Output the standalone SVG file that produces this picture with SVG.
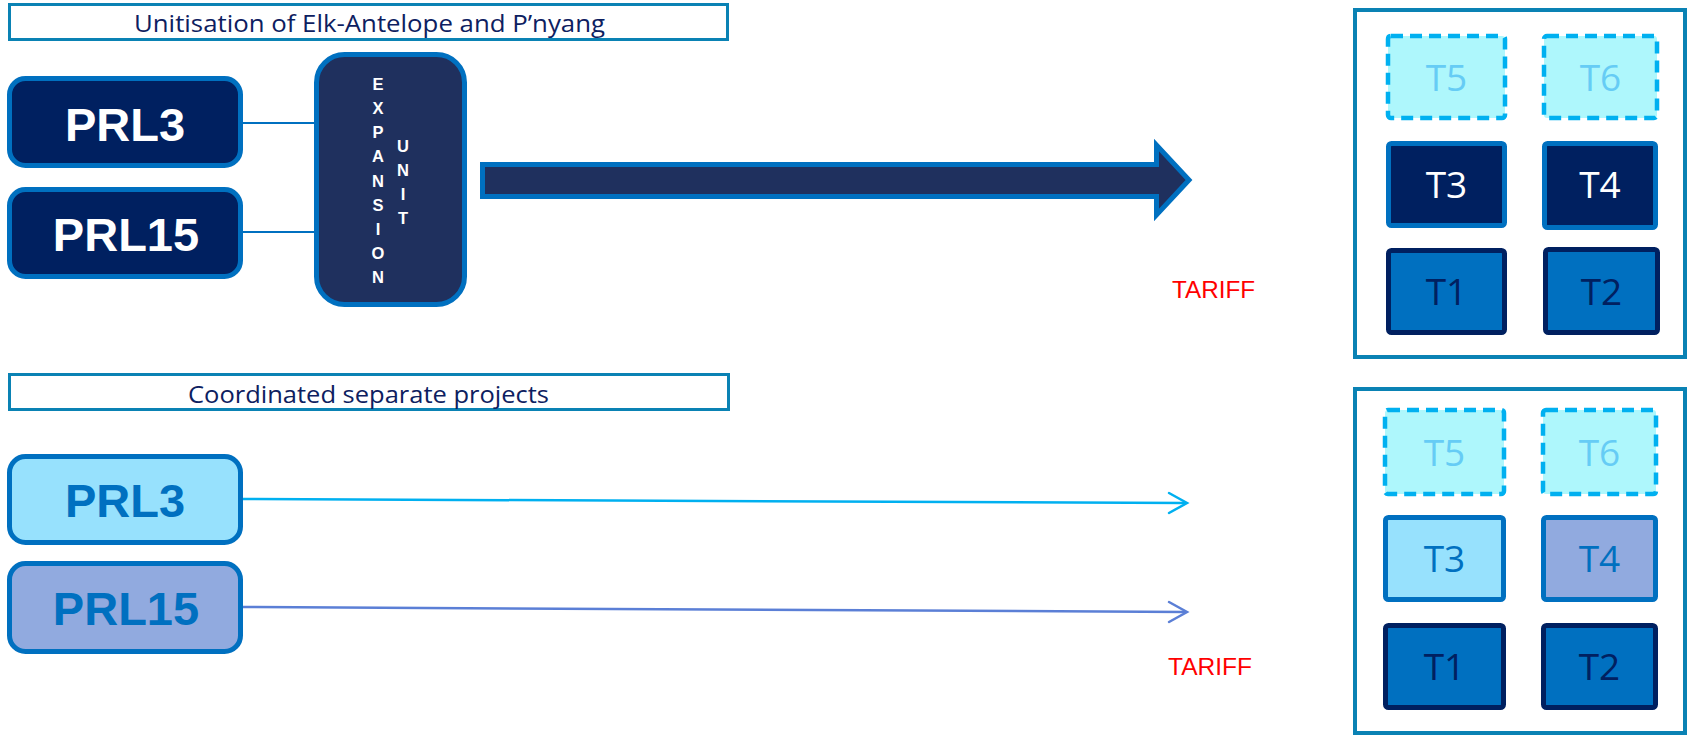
<svg xmlns="http://www.w3.org/2000/svg" width="1688" height="737" viewBox="0 0 1688 737">
<style>
.title{fill:#fff;stroke:#0a82b4;stroke-width:3}
.ttext{font-family:"Open Sans","Liberation Sans",sans-serif;font-size:24px;fill:#0d2060;text-anchor:middle}
.prl{stroke:#0070c0;stroke-width:5}
.prlt{font-family:"Liberation Sans",Arial,sans-serif;font-weight:bold;font-size:47px;text-anchor:middle}
.exp{font-family:"Liberation Sans",Arial,sans-serif;font-weight:bold;font-size:16.5px;fill:#fff;text-anchor:middle}
.panel{fill:#fff;stroke:#0a82b4;stroke-width:4}
.tb{stroke-width:5}
.tt{font-family:"Open Sans","Noto Sans",sans-serif;font-size:37px;text-anchor:middle}
.dash{fill:#aef7fc;stroke:#00b0f0;stroke-width:4.5;stroke-dasharray:12 7}
.tariff{font-family:"Liberation Sans",Arial,sans-serif;font-size:23px;fill:#ff0000}
</style>

<g id="title-top">
<rect class="title" x="9.5" y="4.5" width="718" height="35"/>
<text class="ttext" x="369.5" y="32" textLength="471" lengthAdjust="spacingAndGlyphs">Unitisation of Elk-Antelope and P’nyang</text>
</g>
<g id="title-bottom">
<rect class="title" x="9.5" y="374.5" width="719" height="35"/>
<text class="ttext" x="368.5" y="403" textLength="361" lengthAdjust="spacingAndGlyphs">Coordinated separate projects</text>
</g>

<g id="connectors">
<line x1="243" y1="123" x2="316" y2="123" stroke="#0070c0" stroke-width="2"/>
<line x1="243" y1="232" x2="316" y2="232" stroke="#0070c0" stroke-width="2"/>
<path d="M482.5,164.5 H1156.5 V145 L1189,180 L1156.5,215 V196.5 H482.5 Z" fill="#1f305e" stroke="#0070c0" stroke-width="5"/>
<line x1="243" y1="499" x2="1186" y2="503" stroke="#00b0f0" stroke-width="2.5"/>
<polyline points="1169,493 1187,503 1169,513" fill="none" stroke="#00b0f0" stroke-width="2.5" stroke-linecap="round"/>
<line x1="243" y1="607" x2="1186" y2="612" stroke="#5b7fd6" stroke-width="2.5"/>
<polyline points="1169,602 1187,612 1169,622" fill="none" stroke="#5b7fd6" stroke-width="2.5" stroke-linecap="round"/>
</g>

<g id="prl3-top">
<rect class="prl" x="9.5" y="78.5" width="231" height="87" rx="16" fill="#002060"/>
<text class="prlt" x="125" y="141" fill="#fff">PRL3</text>
</g>
<g id="prl15-top">
<rect class="prl" x="9.5" y="189.5" width="231" height="87" rx="16" fill="#002060"/>
<text class="prlt" x="126" y="251" fill="#fff">PRL15</text>
</g>

<g id="expansion-unit">
<rect x="316.5" y="54.5" width="148" height="250" rx="28" fill="#1f305e" stroke="#0070c0" stroke-width="5"/>
<text class="exp" x="378" y="90">E</text>
<text class="exp" x="378" y="114">X</text>
<text class="exp" x="378" y="138">P</text>
<text class="exp" x="378" y="162">A</text>
<text class="exp" x="378" y="187">N</text>
<text class="exp" x="378" y="211">S</text>
<text class="exp" x="378" y="235">I</text>
<text class="exp" x="378" y="259">O</text>
<text class="exp" x="378" y="283">N</text>
<text class="exp" x="403" y="152">U</text>
<text class="exp" x="403" y="176">N</text>
<text class="exp" x="403" y="200">I</text>
<text class="exp" x="403" y="224">T</text>
</g>

<g id="prl3-bottom">
<rect class="prl" x="9.5" y="456.5" width="231" height="86" rx="16" fill="#97e1fd"/>
<text class="prlt" x="125" y="517" fill="#0070c0">PRL3</text>
</g>
<g id="prl15-bottom">
<rect class="prl" x="9.5" y="563.5" width="231" height="88" rx="16" fill="#91aadf"/>
<text class="prlt" x="126" y="625" fill="#0070c0">PRL15</text>
</g>

<g id="tariff-top"><text class="tariff" x="1172" y="298" textLength="83" lengthAdjust="spacingAndGlyphs">TARIFF</text></g>
<g id="tariff-bottom"><text class="tariff" x="1168" y="675" textLength="84" lengthAdjust="spacingAndGlyphs">TARIFF</text></g>

<g id="panel-top">
<rect class="panel" x="1355" y="10" width="330" height="347"/>
<g id="t5-top"><rect class="dash" x="1388" y="36" width="117" height="82" rx="3"/><text class="tt" x="1446.5" y="90.5" fill="#66ccf5">T5</text></g>
<g id="t6-top"><rect class="dash" x="1544" y="36" width="113" height="82" rx="3"/><text class="tt" x="1600.5" y="90.5" fill="#66ccf5">T6</text></g>
<g id="t3-top"><rect class="tb" x="1388.5" y="143.5" width="116" height="82" rx="3" fill="#002060" stroke="#0070c0"/><text class="tt" x="1446.5" y="198" fill="#fff">T3</text></g>
<g id="t4-top"><rect class="tb" x="1544.5" y="143.5" width="111" height="84" rx="3" fill="#002060" stroke="#0070c0"/><text class="tt" x="1600" y="198" fill="#fff">T4</text></g>
<g id="t1-top"><rect class="tb" x="1388.5" y="250.5" width="116" height="82" rx="3" fill="#0070c0" stroke="#002060"/><text class="tt" x="1446.5" y="305" fill="#002060">T1</text></g>
<g id="t2-top"><rect class="tb" x="1545.5" y="249.5" width="112" height="83" rx="3" fill="#0070c0" stroke="#002060"/><text class="tt" x="1601.5" y="305" fill="#002060">T2</text></g>
</g>

<g id="panel-bottom">
<rect class="panel" x="1355" y="389" width="330" height="344"/>
<g id="t5-bottom"><rect class="dash" x="1385" y="410" width="119" height="84" rx="3"/><text class="tt" x="1444.5" y="465.5" fill="#66ccf5">T5</text></g>
<g id="t6-bottom"><rect class="dash" x="1543" y="410" width="113" height="84" rx="3"/><text class="tt" x="1599.5" y="465.5" fill="#66ccf5">T6</text></g>
<g id="t3-bottom"><rect class="tb" x="1385.5" y="517.5" width="118" height="82" rx="3" fill="#97e1fd" stroke="#0070c0"/><text class="tt" x="1444.5" y="572" fill="#0070c0">T3</text></g>
<g id="t4-bottom"><rect class="tb" x="1543.5" y="517.5" width="112" height="82" rx="3" fill="#91aadf" stroke="#0070c0"/><text class="tt" x="1599.5" y="572" fill="#0070c0">T4</text></g>
<g id="t1-bottom"><rect class="tb" x="1385.5" y="625.5" width="118" height="82" rx="3" fill="#0070c0" stroke="#002060"/><text class="tt" x="1444.5" y="680" fill="#002060">T1</text></g>
<g id="t2-bottom"><rect class="tb" x="1543.5" y="625.5" width="112" height="82" rx="3" fill="#0070c0" stroke="#002060"/><text class="tt" x="1599.5" y="680" fill="#002060">T2</text></g>
</g>
</svg>
